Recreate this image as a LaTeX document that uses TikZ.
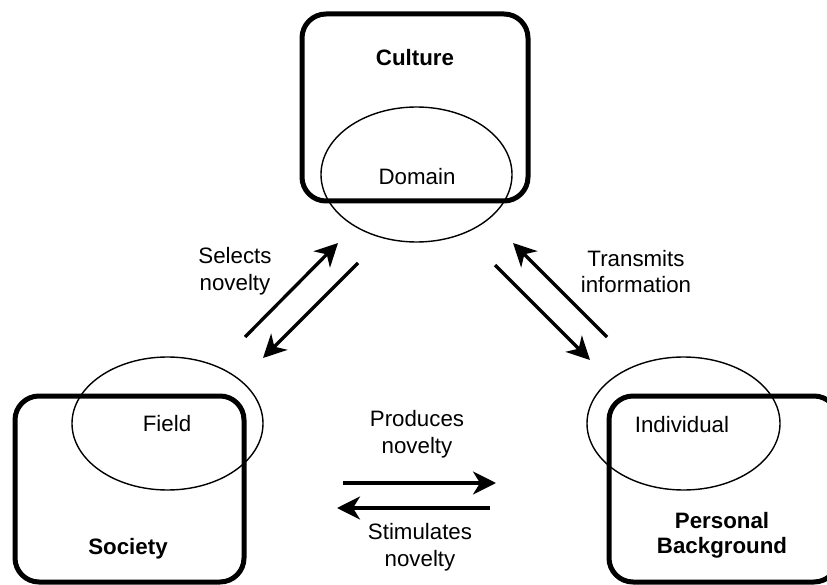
\documentclass[tikz,border=0pt]{standalone}
\usepackage{fontspec}
\setmainfont{Liberation Sans}
\usetikzlibrary{shapes.geometric,arrows.meta}
\begin{document}
\begin{tikzpicture}[x=1pt,y=-1pt,
  bigbox/.style={draw,line width=5pt,rounded corners=24pt,inset sep=0pt,inner sep=0pt},
  oval/.style={draw,ellipse,line width=1.4pt,inner sep=0pt,font=\fontsize{22.3}{26.8}\selectfont},
  lbl/.style={align=center,inner sep=0pt,font=\fontsize{22.3}{26.8}\selectfont},
  blbl/.style={lbl,font=\fontsize{22.3}{25.5}\selectfont\bfseries},
  arr/.style={line width=3.3pt,-{Stealth[length=23pt,width=23pt,inset=7pt]}}]
\useasboundingbox (0,0) rectangle (827,585);
\clip (0,0) rectangle (827,585);
% boxes
\draw[line width=5pt,rounded corners=24pt] (302,14) rectangle (528,201);
\node[lbl,font=\fontsize{22.3}{26.8}\selectfont\bfseries] (culture) at (415,58) {Culture};
\draw[line width=5pt,rounded corners=24pt] (15,396) rectangle (244,582);
\node[lbl,font=\fontsize{22.3}{26.8}\selectfont\bfseries] (society) at (128,549) {Society};
\draw[line width=5pt,rounded corners=24pt] (609,396) rectangle (838,582);
\node[blbl] (personal) at (722,535.5) {Personal\\Background};
% ellipses
\node[oval,minimum width=191pt,minimum height=135pt] (domain) at (416.5,174.5) {};
\node[lbl] (domaint) at (417,177) {Domain};
\node[oval,minimum width=191pt,minimum height=133pt] (field) at (167.5,423.5) {};
\node[lbl] (fieldt) at (167,424) {Field};
\node[oval,minimum width=193pt,minimum height=133pt] (individual) at (683.5,423.5) {};
\node[lbl] (individualt) at (682,425) {Individual};
% arrow labels
\node[lbl] (sel) at (235,271.5) {Selects\\novelty};
\node[lbl] (tra) at (636,271.5) {Transmits\\information};
\node[lbl] (pro) at (417,434) {Produces\\novelty};
\node[lbl] (sti) at (420,547.5) {Stimulates\\novelty};
% arrow end points
\coordinate (a1s) at (245,337); \coordinate (a1e) at (338,243);
\coordinate (a2s) at (358,263); \coordinate (a2e) at (263,358);
\coordinate (a3s) at (607,337); \coordinate (a3e) at (513,243);
\coordinate (a4s) at (495,265); \coordinate (a4e) at (590,360);
\coordinate (a5s) at (343,483); \coordinate (a5e) at (496,483);
\coordinate (a6s) at (490,508); \coordinate (a6e) at (337,508);
\draw[arr] (a1s) -- (a1e);
\draw[arr] (a2s) -- (a2e);
\draw[arr] (a3s) -- (a3e);
\draw[arr] (a4s) -- (a4e);
\draw[arr] (a5s) -- (a5e);
\draw[arr] (a6s) -- (a6e);
\end{tikzpicture}
\end{document}
